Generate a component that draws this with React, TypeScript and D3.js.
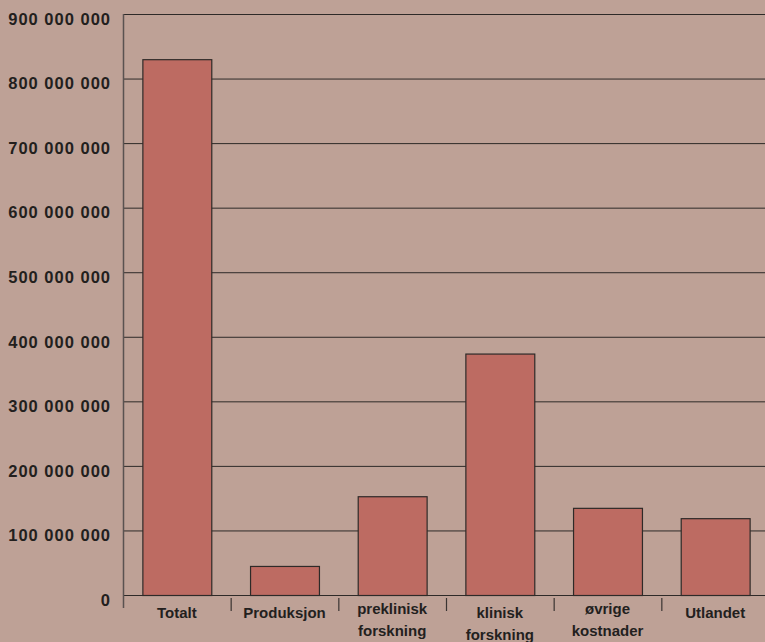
import { useEffect, useRef } from "react";
import * as d3 from "d3";

const categories = ["Totalt", "Produksjon", "preklinisk forskning", "klinisk forskning", "øvrige kostnader", "Utlandet"];
const labelLines = [["Totalt"], ["Produksjon"], ["preklinisk", "forskning"], ["klinisk", "forskning"], ["øvrige", "kostnader"], ["Utlandet"]];
const values = [830000000, 45000000, 153000000, 374000000, 135000000, 119000000];
const yTicks = [0, 100000000, 200000000, 300000000, 400000000, 500000000, 600000000, 700000000, 800000000, 900000000];

const width = 765;
const height = 642;
const margin = { top: 14, right: -4, bottom: 47, left: 123 };

function formatTick(v: number) {
  return d3.format(",")(v).replace(/,/g, " ");
}

export default function App() {
  const svgRef = useRef<SVGSVGElement | null>(null);

  useEffect(() => {
    if (!svgRef.current) return;
    const svg = d3.select(svgRef.current);
    svg.selectAll("*").remove();

    const innerWidth = width - margin.left - margin.right;
    const innerHeight = height - margin.top - margin.bottom;

    svg.append("rect").attr("width", width).attr("height", height).attr("fill", "#bea196");

    const root = svg.append("g").attr("transform", `translate(${margin.left},${margin.top})`);
    const x = d3.scaleBand<string>().domain(categories).range([0, innerWidth]).paddingInner(0.36).paddingOuter(0.18);
    const band = d3.scaleBand<string>().domain(categories).range([0, innerWidth]);
    const y = d3.scaleLinear().domain([0, 900000000]).range([innerHeight, 0]);

    // gridlines
    root
      .selectAll("line.grid")
      .data(yTicks.filter((t) => t > 0))
      .enter()
      .append("line")
      .attr("class", "grid")
      .attr("x1", 0)
      .attr("x2", innerWidth)
      .attr("y1", (d) => y(d) + 0.5)
      .attr("y2", (d) => y(d) + 0.5)
      .attr("stroke", "#2e2a28")
      .attr("stroke-width", 1);

    // y labels
    root
      .selectAll("text.ylab")
      .data(yTicks)
      .enter()
      .append("text")
      .attr("class", "ylab")
      .attr("x", -12)
      .attr("y", (d) => y(d) + 5)
      .attr("dy", "0.35em")
      .attr("text-anchor", "end")
      .attr("fill", "#231f1e")
      .style("font-family", "'Liberation Sans', Arial, sans-serif")
      .style("font-size", "16.5px")
      .style("font-weight", "700")
      .style("letter-spacing", "1px")
      .text((d) => formatTick(d));

    // bars
    root
      .selectAll("rect.bar")
      .data(values)
      .enter()
      .append("rect")
      .attr("class", "bar")
      .attr("x", (_, i) => (x(categories[i]) ?? 0) + 0.5)
      .attr("y", (d) => y(d) + 0.5)
      .attr("width", x.bandwidth())
      .attr("height", (d) => y(0) - y(d))
      .attr("fill", "#bd6b62")
      .attr("stroke", "#2e2a28")
      .attr("stroke-width", 1.2);

    // baseline
    root
      .append("line")
      .attr("x1", 0)
      .attr("x2", innerWidth)
      .attr("y1", innerHeight + 0.5)
      .attr("y2", innerHeight + 0.5)
      .attr("stroke", "#2e2a28");

    // y axis line
    root
      .append("line")
      .attr("x1", 0.5)
      .attr("x2", 0.5)
      .attr("y1", 0)
      .attr("y2", innerHeight + 13)
      .attr("stroke", "#5a5250")
      .attr("stroke-width", 1.5);

    // x ticks at band boundaries
    root
      .selectAll("line.xtick")
      .data(categories.slice(1))
      .enter()
      .append("line")
      .attr("class", "xtick")
      .attr("x1", (d) => (band(d) ?? 0) + 0.5)
      .attr("x2", (d) => (band(d) ?? 0) + 0.5)
      .attr("y1", innerHeight + 3)
      .attr("y2", innerHeight + 16)
      .attr("stroke", "#3a3432")
      .attr("stroke-width", 1.2);

    // category labels
    const labels = root
      .selectAll("text.xlab")
      .data(categories)
      .enter()
      .append("text")
      .attr("class", "xlab")
      .attr("text-anchor", "middle")
      .attr("fill", "#231f1e")
      .style("font-family", "'Liberation Sans', Arial, sans-serif")
      .style("font-size", "15px")
      .style("font-weight", "700")
      .attr("transform", (d, i) => {
        const cx = (band(d) ?? 0) + band.bandwidth() / 2;
        const lines = labelLines[i].length;
        const top = lines === 1 ? 23 : d.startsWith("klinisk") ? 23 : 19;
        return `translate(${cx},${innerHeight + top})`;
      });

    labels
      .selectAll("tspan")
      .data((_, i) => labelLines[i])
      .enter()
      .append("tspan")
      .attr("x", 0)
      .attr("dy", (_, j) => (j === 0 ? "0" : "22px"))
      .text((t) => t);
  }, []);

  return (
    <div style={{ position: "fixed", left: 0, top: 0, width, height, overflow: "hidden" }}>
      <svg ref={svgRef} width={width} height={height} style={{ display: "block" }} />
    </div>
  );
}
